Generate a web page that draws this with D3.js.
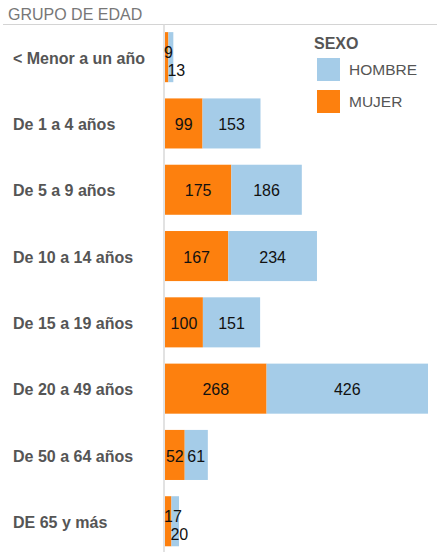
<!DOCTYPE html>
<html>
<head>
<meta charset="utf-8">
<script src="https://cdn.jsdelivr.net/npm/d3@7"></script>
<style>
  body { margin: 0; background: #fff; font-family: "Liberation Sans", Arial, sans-serif; }
</style>
</head>
<body>
<div id="chart"></div>
<script>
const W = 437, H = 552;

// data
const grupos = ["< Menor a un año", "De 1 a 4 años", "De 5 a 9 años", "De 10 a 14 años",
  "De 15 a 19 años", "De 20 a 49 años", "De 50 a 64 años", "DE 65 y más"];
const mujer = [9, 99, 175, 167, 100, 268, 52, 17];
const hombre = [13, 153, 186, 234, 151, 426, 61, 20];
const sexos = ["HOMBRE", "MUJER"];
const colores = { HOMBRE: "#a5cce8", MUJER: "#fd800e" };

const rows = grupos.map((g, i) => ({ grupo: g, mujer: mujer[i], hombre: hombre[i] }));

const svg = d3.select("#chart").append("svg")
  .attr("width", W)
  .attr("height", H);

const plotTop = 24, axisX = 165;

const x = d3.scaleLinear()
  .domain([0, d3.max(rows, d => d.mujer + d.hombre)])
  .range([axisX, 428]);

const step = 66.3;
const y = d3.scaleBand()
  .domain(grupos)
  .range([plotTop, plotTop + step * grupos.length])
  .paddingInner(0.245)
  .paddingOuter(0.1225);

// header
svg.append("text")
  .attr("x", 8).attr("y", 20)
  .attr("font-size", 16)
  .attr("fill", "#777")
  .text("GRUPO DE EDAD");

svg.append("line")
  .attr("x1", 3).attr("x2", W)
  .attr("y1", plotTop + 0.5).attr("y2", plotTop + 0.5)
  .attr("stroke", "#d4d4d4");

svg.append("line")
  .attr("x1", axisX - 1).attr("x2", axisX - 1)
  .attr("y1", plotTop).attr("y2", H)
  .attr("stroke", "#d9d9d9")
  .attr("stroke-width", 1.5);

// category labels
const yAxis = svg.append("g")
  .attr("transform", `translate(13,0)`)
  .call(d3.axisLeft(y).tickSize(0));
yAxis.select(".domain").remove();
yAxis.selectAll("text")
  .attr("x", 0)
  .attr("dy", "0.42em")
  .attr("text-anchor", "start")
  .attr("font-family", "Liberation Sans, Arial, sans-serif")
  .attr("font-size", 16)
  .attr("font-weight", "bold")
  .attr("fill", "#555");

// bars
const g = svg.append("g");
rows.forEach(d => {
  const y0 = y(d.grupo), bh = y.bandwidth(), cy = y0 + bh / 2;
  g.append("rect")
    .attr("x", x(0)).attr("y", y0)
    .attr("width", x(d.mujer) - x(0)).attr("height", bh)
    .attr("fill", colores.MUJER);
  g.append("rect")
    .attr("x", x(d.mujer)).attr("y", y0)
    .attr("width", x(d.mujer + d.hombre) - x(d.mujer)).attr("height", bh)
    .attr("fill", colores.HOMBRE);

  const narrow = (x(d.mujer) - x(0)) < 16;
  const lab = (val, lx, ly, anchor) => g.append("text")
    .attr("x", lx).attr("y", ly)
    .attr("dy", "0.35em")
    .attr("text-anchor", anchor)
    .attr("font-size", 16)
    .attr("fill", "#111")
    .text(val);
  if (narrow) {
    lab(d.mujer, x(0) - 1, cy - 5, "start");
    lab(d.hombre, Math.max(x(d.mujer) - 1, x(0)), cy + 13, "start");
  } else {
    lab(d.mujer, (x(0) + x(d.mujer)) / 2, cy + 1, "middle");
    lab(d.hombre, (x(d.mujer) + x(d.mujer + d.hombre)) / 2, cy + 1, "middle");
  }
});

// legend
const leg = svg.append("g").attr("transform", "translate(314,0)");
leg.append("text")
  .attr("x", 0).attr("y", 49)
  .attr("font-size", 16)
  .attr("font-weight", "bold")
  .attr("fill", "#555")
  .text("SEXO");
sexos.forEach((s, i) => {
  const ly = 58 + i * 32;
  leg.append("rect")
    .attr("x", 3).attr("y", ly)
    .attr("width", 23).attr("height", 23)
    .attr("fill", colores[s]);
  leg.append("text")
    .attr("x", 35).attr("y", ly + 12)
    .attr("dy", "0.35em")
    .attr("font-size", 15.5)
    .attr("fill", "#555")
    .text(s);
});
</script>
</body>
</html>
